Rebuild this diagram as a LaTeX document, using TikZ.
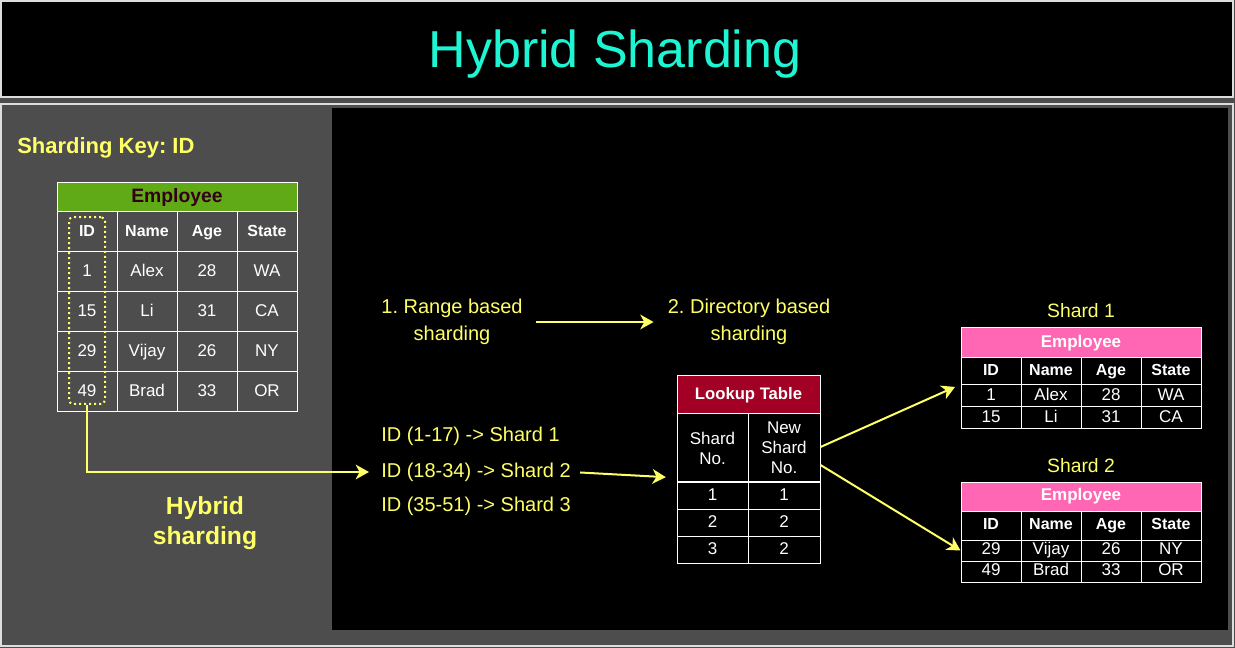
\documentclass[tikz,border=0pt]{standalone}
\usepackage{fontspec}
\setmainfont{Liberation Sans}
\usetikzlibrary{positioning,arrows.meta,calc}
\definecolor{panelgray}{HTML}{4D4D4D}
\definecolor{framegray}{HTML}{DDDDDD}
\definecolor{keyyellow}{HTML}{FFFF66}
\definecolor{titlecyan}{HTML}{1EF5D2}
\definecolor{empgreen}{HTML}{60A917}
\definecolor{empmaroon}{HTML}{33001A}
\definecolor{lookupred}{HTML}{A20025}
\definecolor{shardpink}{HTML}{FF66B3}
\frenchspacing

\begin{document}
\begin{tikzpicture}[x=0.75pt, y=-0.75pt,
    every node/.style={inner sep=0pt},
    ytext/.style={text=keyyellow, font=\fontsize{15}{20.25}\selectfont, align=center},
    cell/.style={draw=white, line width=0.75pt, text=white, minimum width=45pt, minimum height=#1, font=\fontsize{12.75}{15}\selectfont, align=center, text height=9.2pt, text depth=2.6pt},
    cell/.default=30pt,
    headcell/.style={cell=#1, font=\bfseries\fontsize{12}{15}\selectfont},
    headcell/.default=30pt,
    tablehead/.style={draw=white, line width=0.75pt, minimum width=180pt, minimum height=#1, font=\bfseries\fontsize{12.75}{15}\selectfont},
    yarrow/.style={draw=keyyellow, line width=1.5pt, -{Stealth[length=10pt,width=11pt,inset=3pt]}}]
  \useasboundingbox (0,0) rectangle (1235,648);
  % Frames
  \fill[panelgray] (0,0) rectangle (1235,648);
  \draw[framegray, line width=1.5pt, fill=black] (1,1) rectangle (1233,97);
  \draw[framegray, line width=1.5pt, fill=panelgray] (1,104) rectangle (1233,646);
  \fill[black] (332,108) rectangle (1228,630);
  \node[text=titlecyan, font=\fontsize{39}{42}\selectfont] (title) at (615,54) {Hybrid Sharding};

  % Employee table
  \node[text=keyyellow, font=\bfseries\fontsize{16.5}{20}\selectfont, anchor=west] (keytxt) at (17,148) {Sharding Key: ID};
  \node[tablehead=21.75pt, fill=empgreen, text=empmaroon, font=\bfseries\fontsize{14.5}{16}\selectfont] (emphead) at (177,197.5) {Employee};
  \foreach \lbl [count=\c] in {ID,Name,Age,State}
    \node[headcell] (emp-0-\c) at (27+60*\c,232) {\lbl};
  \foreach \id/\nm/\ag/\st [count=\r] in {1/Alex/28/WA,15/Li/31/CA,29/Vijay/26/NY,49/Brad/33/OR} {
    \node[cell] (emp-\r-1) at (87,232+40*\r) {\id};
    \node[cell] (emp-\r-2) at (147,232+40*\r) {\nm};
    \node[cell] (emp-\r-3) at (207,232+40*\r) {\ag};
    \node[cell] (emp-\r-4) at (267,232+40*\r) {\st};
  }
  \node[draw=keyyellow, line width=1.5pt, dash pattern=on 1.5pt off 2.25pt, rounded corners=3pt, minimum width=27pt, minimum height=140pt] (idbox) at (87,310.5) {};
  \node[ytext, font=\bfseries\fontsize{18.5}{22.5}\selectfont] (hybridtxt) at (205,523) {Hybrid\\sharding};

  % Range and directory steps
  \node[ytext] (rangetxt) at (452,322) {1. Range based\\sharding};
  \node[ytext] (dirtxt) at (749,322) {2. Directory based\\sharding};
  \draw[yarrow, shorten <=9.75pt, shorten >=10.5pt] (rangetxt.east) -- (dirtxt.west);
  \node[ytext, anchor=west] (idr1) at (381,436) {ID (1-17) -> Shard 1};
  \node[ytext, anchor=west] (idr2) at (381,472) {ID (18-34) -> Shard 2};
  \node[ytext, anchor=west] (idr3) at (381,506) {ID (35-51) -> Shard 3};
  \draw[yarrow, line width=1.2pt, shorten >=9pt] (idbox.south) |- (idr2.west);

  % Lookup table
  \node[draw=white, line width=0.75pt, fill=lookupred, text=white, minimum width=107.25pt, minimum height=28.5pt, font=\bfseries\fontsize{12.5}{15}\selectfont] (lkhead) at (748.5,395) {Lookup Table};
  \node[cell=51pt, minimum width=53.25pt, text height={}, text depth={}] (lkshard) at (712.5,448) {Shard\\No.};
  \node[cell=51pt, minimum width=54pt, text height={}, text depth={}] (lknew) at (784,448) {New\\Shard\\No.};
  \foreach \a/\b [count=\r] in {1/1,2/2,3/2} {
    \node[cell=20.5pt, minimum width=53.25pt] (lk-\r-1) at (712.5,468.3+27.33*\r) {\a};
    \node[cell=20.5pt, minimum width=54pt] (lk-\r-2) at (784,468.3+27.33*\r) {\b};
  }
  \draw[yarrow, shorten <=6.75pt] (idr2.east) -- ([xshift=-8pt,yshift=4pt]lkshard.south west);

  % Shard 1
  \node[ytext, font=\fontsize{14.5}{17}\selectfont] (shardone) at (1081,311) {Shard 1};
  \node[tablehead=22.5pt, fill=shardpink, text=white] (s1head) at (1081,343) {Employee};
  \foreach \lbl [count=\c] in {ID,Name,Age,State}
    \node[headcell=20.25pt] (s1-0-\c) at (931+60*\c,371.5) {\lbl};
  \foreach \id/\nm/\ag/\st [count=\r] in {1/Alex/28/WA,15/Li/31/CA} {
    \node[cell=16.5pt] (s1-\r-1) at (991,374+22*\r) {\id};
    \node[cell=16.5pt] (s1-\r-2) at (1051,374+22*\r) {\nm};
    \node[cell=16.5pt] (s1-\r-3) at (1111,374+22*\r) {\ag};
    \node[cell=16.5pt] (s1-\r-4) at (1171,374+22*\r) {\st};
  }

  % Shard 2
  \node[ytext, font=\fontsize{14.5}{17}\selectfont] (shardtwo) at (1081,466) {Shard 2};
  \node[tablehead=21.75pt, fill=shardpink, text=white] (s2head) at (1081,496.5) {Employee};
  \foreach \lbl [count=\c] in {ID,Name,Age,State}
    \node[headcell=21.75pt] (s2-0-\c) at (931+60*\c,525.5) {\lbl};
  \foreach \id/\nm/\ag/\st [count=\r] in {29/Vijay/26/NY,49/Brad/33/OR} {
    \node[cell=15.75pt] (s2-\r-1) at (991,529.5+21*\r) {\id};
    \node[cell=15.75pt] (s2-\r-2) at (1051,529.5+21*\r) {\nm};
    \node[cell=15.75pt] (s2-\r-3) at (1111,529.5+21*\r) {\ag};
    \node[cell=15.75pt] (s2-\r-4) at (1171,529.5+21*\r) {\st};
  }

  % Lookup to shards
  \draw[yarrow, shorten >=4.5pt] ([yshift=0.75pt]lknew.east) -- (s1-1-1.north west);
  \draw[yarrow] ([yshift=-12.75pt]lknew.east) -- (s2-1-1.west);
\end{tikzpicture}
\end{document}
